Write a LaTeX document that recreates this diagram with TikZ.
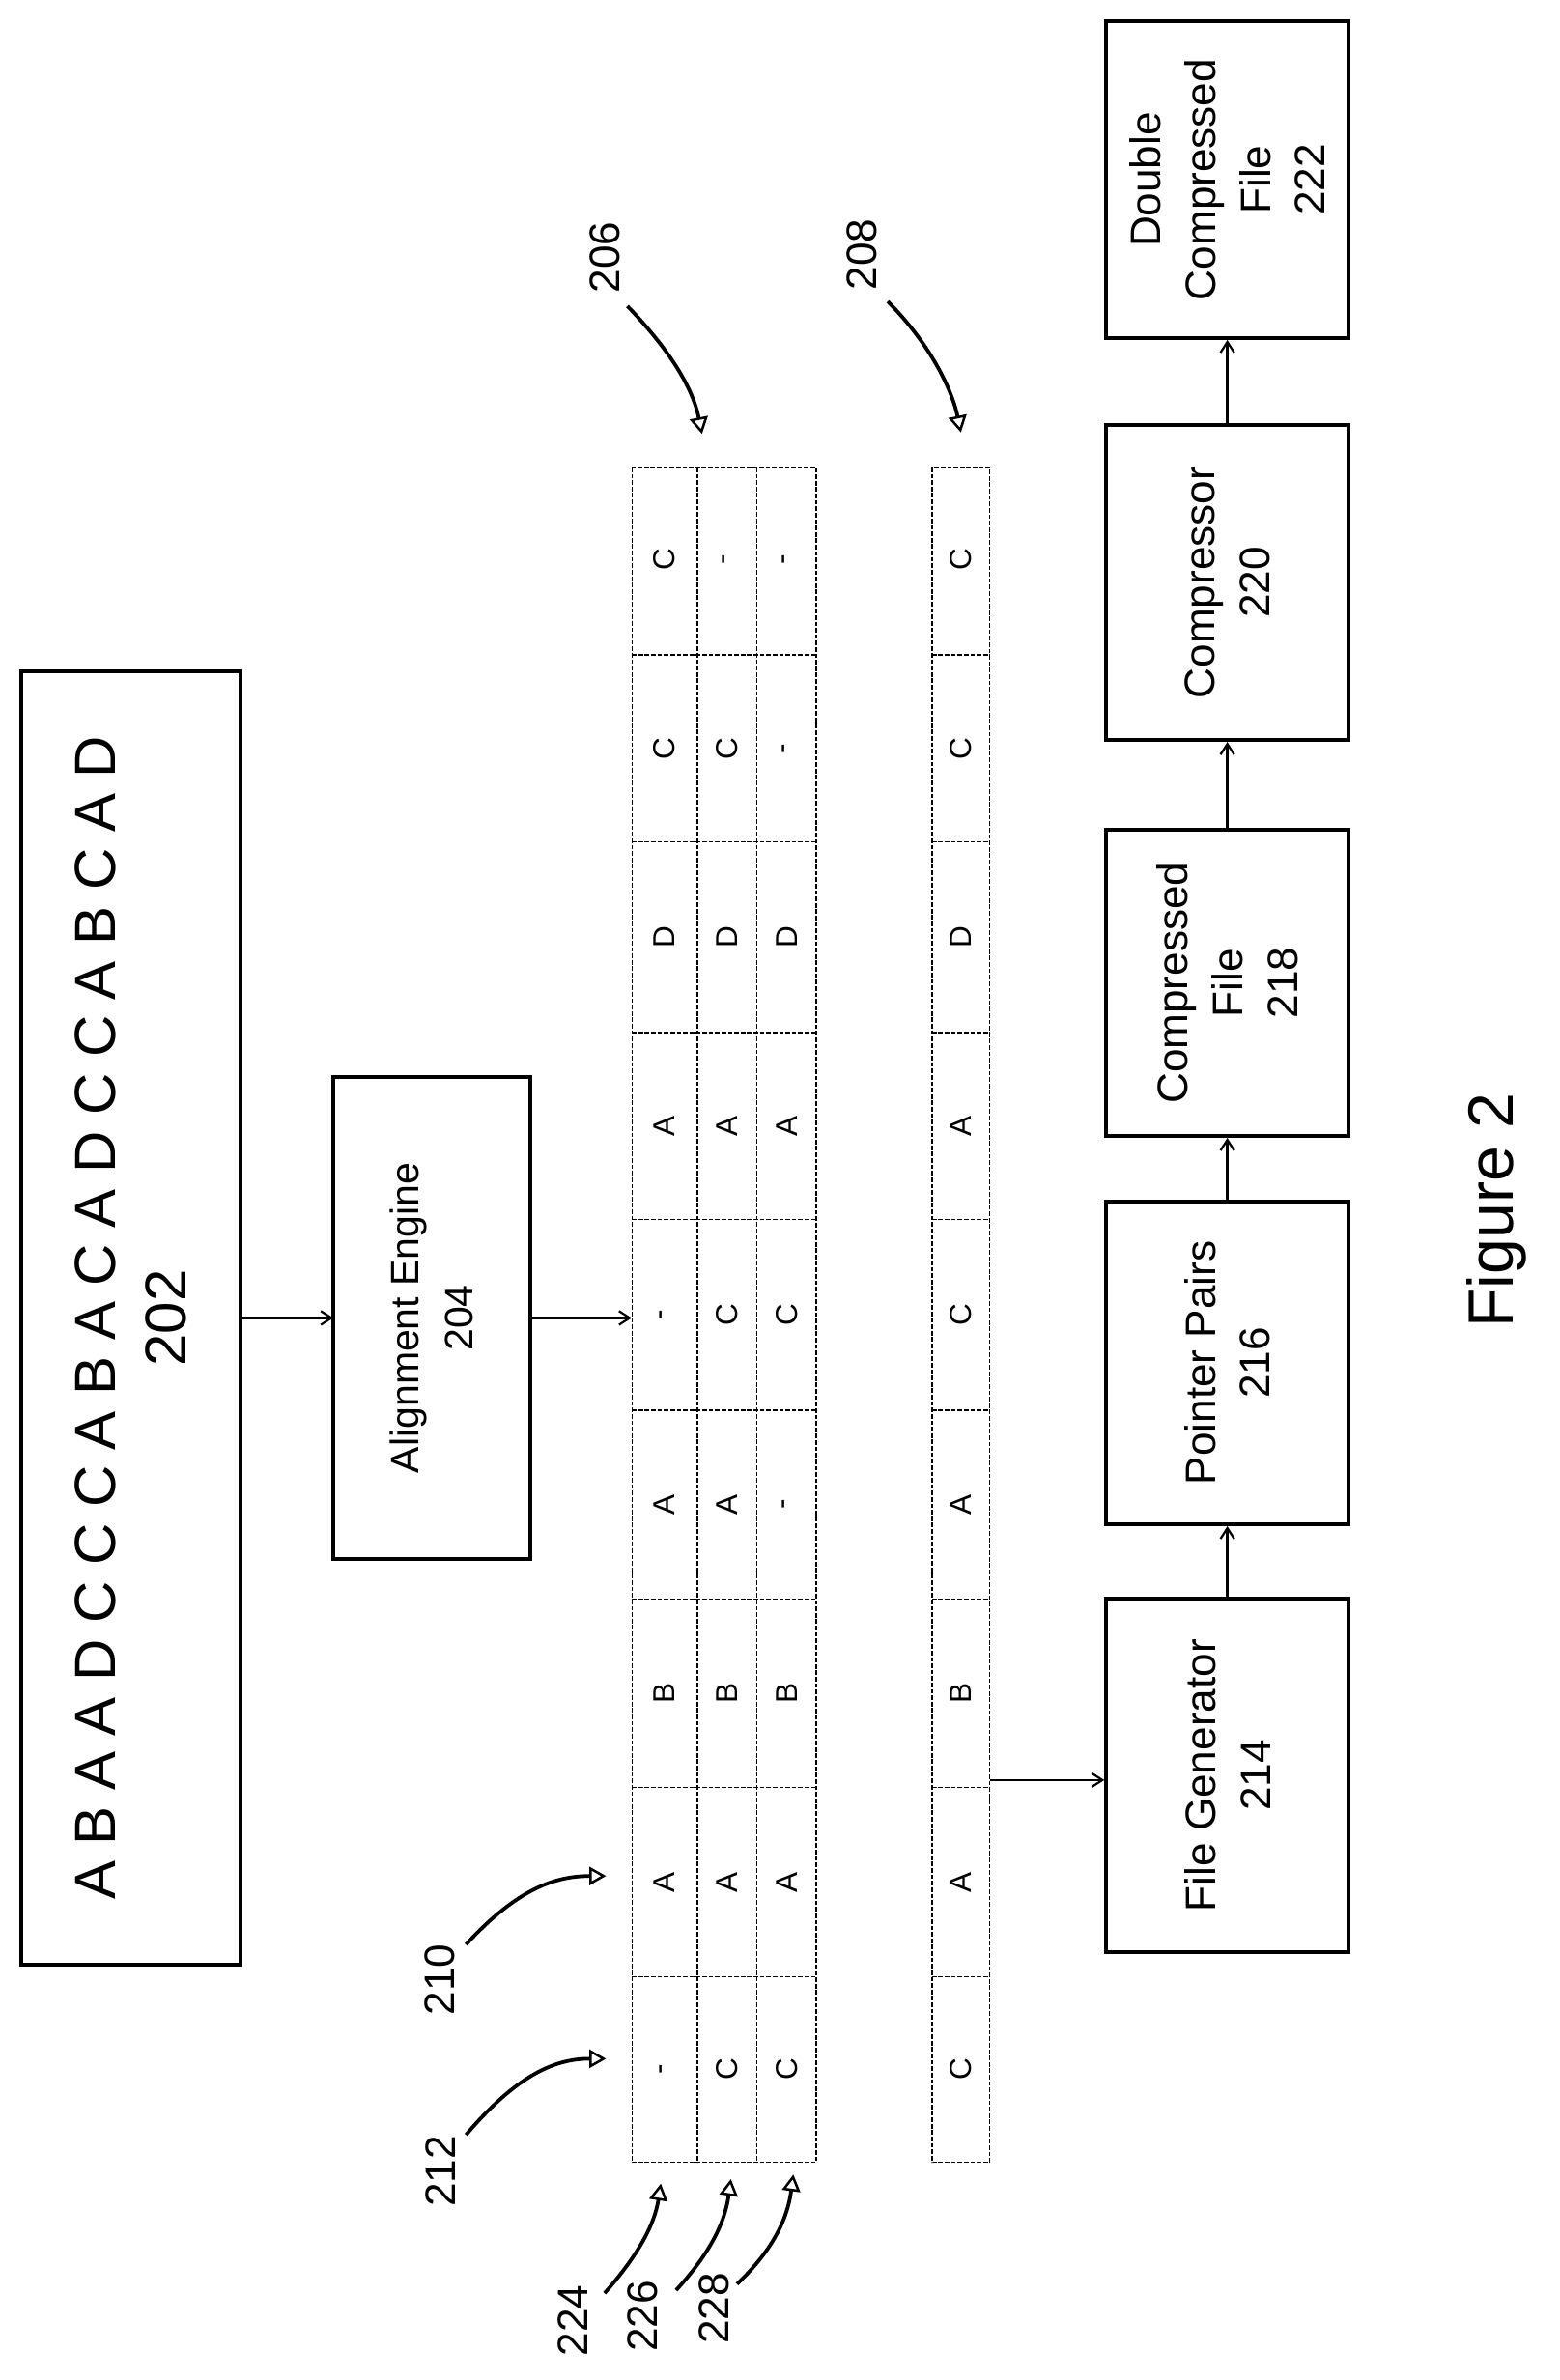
\documentclass[tikz,border=0pt]{standalone}
\usepackage{fontspec}
\setmainfont{Liberation Sans}
\usetikzlibrary{arrows.meta}
\begin{document}
\begin{tikzpicture}[x=1pt,y=-1pt,
  box/.style={draw,line width=2.5pt,minimum width=0pt,inner sep=0pt},
  btxt/.style={rotate=90,align=center,font=\fontsize{28}{36}\selectfont},
  cell/.style={rotate=90,font=\fontsize{20}{24}\selectfont},
  lab/.style={rotate=90,font=\fontsize{28}{34}\selectfont},
  conn/.style={line width=1.6pt,-{Straight Barb[length=7pt,width=9pt,line width=1.4pt]}},
  curly/.style={line width=2.4pt,-{Triangle[open,length=11pt,width=12pt,line width=1.6pt]}},
  grid/.style={line width=0.9pt,dash pattern=on 3pt off 1.2pt}]
\useasboundingbox (0,0) rectangle (1024,1563);
% box 202
\draw[box] (14,441) rectangle (158,1290);
\node (b202) at (86,865.5) {};
\node[rotate=90,align=center,font=\fontsize{38}{46}\selectfont] at (86,865.5) {A B A A D C C C A B A C A D C C A B C A D\\202};
% alignment engine
\draw[box] (219,707) rectangle (348,1024);
\node (b204) at (283.5,865.5) {};
\node[btxt,font=\fontsize{26}{36}\selectfont] at (283.5,865.5) {Alignment Engine\\204};
% table 206
\node[inner sep=0pt,minimum width=121pt,minimum height=1113pt] (t206) at (475.5,863.5) {};
\draw[grid] (415,307) rectangle (536,1420);
\foreach \xx in {458,497} \draw[grid] (\xx,307) -- (\xx,1420);
\foreach \yy in {430,553,678,801,926,1050,1174,1298} \draw[grid] (415,\yy) -- (536,\yy);
% table 208
\node[inner sep=0pt,minimum width=38pt,minimum height=1113pt] (t208) at (631,863.5) {};
\draw[grid] (612,307) rectangle (650,1420);
\foreach \yy in {430,553,678,801,926,1050,1174,1298} \draw[grid] (612,\yy) -- (650,\yy);
% cell contents (bottom to top)
\def\ys{1359,1236,1112,988,863.5,739.5,615.5,491.5,367.5}
\foreach \c [count=\i] in {-,A,B,A,-,A,D,C,C}{\pgfmathsetmacro\yy{{\ys}[\i-1]}\node[cell] at (436.5,\yy) {\c};}
\foreach \c [count=\i] in {C,A,B,A,C,A,D,C,-}{\pgfmathsetmacro\yy{{\ys}[\i-1]}\node[cell] at (477.5,\yy) {\c};}
\foreach \c [count=\i] in {C,A,B,-,C,A,D,-,-}{\pgfmathsetmacro\yy{{\ys}[\i-1]}\node[cell] at (516.5,\yy) {\c};}
\foreach \c [count=\i] in {C,A,B,A,C,A,D,C,C}{\pgfmathsetmacro\yy{{\ys}[\i-1]}\node[cell] at (631,\yy) {\c};}
% right column boxes
\node[box,minimum width=159pt,minimum height=232pt] (fg) at (806,1166) {};
\node[btxt] at (fg) {File Generator\\214};
\node[box,minimum width=159pt,minimum height=212pt] (pp) at (806,895) {};
\node[btxt] at (pp) {Pointer Pairs\\216};
\node[box,minimum width=159pt,minimum height=201pt] (cf) at (806,645.5) {};
\node[btxt] at (cf) {Compressed\\File\\218};
\node[box,minimum width=159pt,minimum height=207pt] (cp) at (806,382.5) {};
\node[btxt] at (cp) {Compressor\\220};
\node[box,minimum width=159pt,minimum height=208pt] (dc) at (806,118) {};
\node[btxt] at (dc) {Double\\Compressed\\File\\222};
% connectors
\draw[conn] (158,865.5) -- (b204.center -| 219,0);
\draw[conn] (348,865.5) -- (t206.west |- b204);
\draw[conn] (t208.east |- 0,1169) -- (fg.west |- 0,1169);
\draw[conn] (fg.north) -- (pp.south);
\draw[conn] (pp.north) -- (cf.south);
\draw[conn] (cf.north) -- (cp.south);
\draw[conn] (cp.north) -- (dc.south);
% labels
\node[lab] (l206) at (397,169) {206};
\node[lab] (l208) at (566,167) {208};
\node[lab] (l210) at (289,1300) {210};
\node[lab] (l212) at (289,1426) {212};
\node[lab] (l224) at (376,1524) {224};
\node[lab] (l226) at (422,1521) {226};
\node[lab] (l228) at (469,1516) {228};
\coordinate (e206) at (461,285);
\coordinate (e208) at (631,284);
\coordinate (e210) at (398,1232);
\coordinate (e212) at (398,1352);
\coordinate (e224) at (434,1434);
\coordinate (e226) at (480,1431);
\coordinate (e228) at (521,1428);
\draw[curly] (412,201) .. controls (440,230) and (455,255) .. (e206);
\draw[curly] (583,198) .. controls (610,225) and (625,255) .. (e208);
\draw[curly] (306,1277) .. controls (340,1240) and (365,1232) .. (e210);
\draw[curly] (306,1402) .. controls (340,1362) and (365,1352) .. (e212);
\draw[curly] (397,1506) .. controls (420,1480) and (430,1460) .. (e224);
\draw[curly] (444,1504) .. controls (466,1480) and (476,1460) .. (e226);
\draw[curly] (484,1500) .. controls (507,1478) and (517,1458) .. (e228);
\node[rotate=90,font=\fontsize{42}{50}\selectfont] (fig) at (983,795) {Figure 2};
\end{tikzpicture}
\end{document}
